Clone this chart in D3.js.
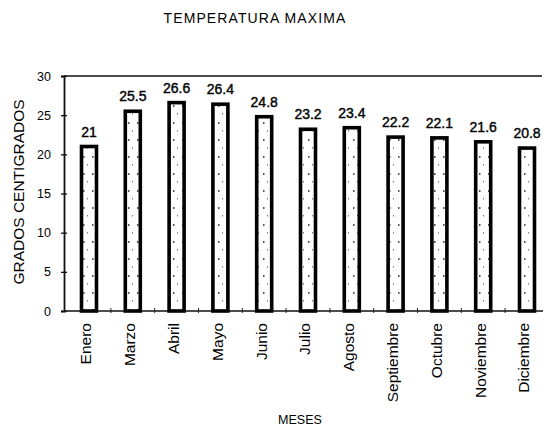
<!DOCTYPE html>
<html>
<head>
<meta charset="utf-8">
<script src="https://cdn.jsdelivr.net/npm/d3@7"></script>
<style>
  body { margin: 0; background: #fff; }
  svg { display: block; font-family: "Liberation Sans", Arial, Helvetica, sans-serif; }
</style>
</head>
<body>
<div id="chart"></div>
<script>
const months = ["Enero", "Marzo", "Abril", "Mayo", "Junio", "Julio", "Agosto",
                "Septiembre", "Octubre", "Noviembre", "Diciembre"]
const tempMax = [21, 25.5, 26.6, 26.4, 24.8, 23.2, 23.4, 22.2, 22.1, 21.6, 20.8]
const yTicks = [0, 5, 10, 15, 20, 25, 30]

const width = 544
const height = 428
const frame = {left: 64, right: 542, top: 76, bottom: 311}

const data = months.map((m, i) => ({month: m, value: tempMax[i]}))

const svg = d3.select("#chart").append("svg")
    .attr("width", width)
    .attr("height", height)

// speckled fill like the scanned bars
const pat = svg.append("defs").append("pattern")
    .attr("id", "speck")
    .attr("patternUnits", "userSpaceOnUse")
    .attr("width", 9).attr("height", 17)
pat.append("rect").attr("width", 9).attr("height", 17).attr("fill", "#fff")
pat.append("rect").attr("x", 2).attr("y", 3).attr("width", 1.5).attr("height", 2).attr("fill", "#555")
pat.append("rect").attr("x", 6).attr("y", 11).attr("width", 1).attr("height", 1.5).attr("fill", "#777")

const x = d3.scalePoint()
    .domain(months)
    .range([89, 527])

const y = d3.scaleLinear()
    .domain([0, 30])
    .range([frame.bottom, frame.top])

const barW = 15

// frame: top and bottom lines
svg.append("line")
    .attr("x1", frame.left).attr("x2", frame.right)
    .attr("y1", frame.top).attr("y2", frame.top)
    .attr("stroke", "#111").attr("stroke-width", 1.6)
svg.append("line")
    .attr("x1", frame.left).attr("x2", 543)
    .attr("y1", frame.bottom).attr("y2", frame.bottom)
    .attr("stroke", "#111").attr("stroke-width", 1.6)

// y axis
const yAxis = d3.axisLeft(y)
    .tickValues(yTicks)
    .tickSize(3)
    .tickPadding(10)
const gy = svg.append("g")
    .attr("class", "y-axis")
    .attr("transform", `translate(${frame.left},0)`)
    .call(yAxis)
gy.select(".domain").attr("stroke", "#111").attr("stroke-width", 1.8)
gy.selectAll(".tick line").attr("stroke", "#111").attr("x2", 3).attr("x1", -3).attr("stroke-width", 1.3)
gy.selectAll(".tick text")
    .attr("font-size", 12.5)
    .attr("fill", "#000")
    .attr("font-family", "Liberation Sans, Arial, sans-serif")

// small marks on the baseline between bars
const mids = months.slice(1).map((m, i) => (x(months[i]) + x(m)) / 2)
svg.append("g").selectAll("line")
    .data(mids)
    .join("line")
    .attr("x1", d => d).attr("x2", d => d)
    .attr("y1", frame.bottom - 3).attr("y2", frame.bottom + 2)
    .attr("stroke", "#222").attr("stroke-width", 1)

// bars
svg.append("g").selectAll("rect")
    .data(data)
    .join("rect")
    .attr("x", d => x(d.month) - barW / 2)
    .attr("y", d => y(d.value))
    .attr("width", barW)
    .attr("height", d => y(0) - y(d.value))
    .attr("fill", "url(#speck)")
    .attr("stroke", "#000")
    .attr("stroke-width", 3.6)

// value labels
svg.append("g").selectAll("text")
    .data(data)
    .join("text")
    .attr("x", d => x(d.month))
    .attr("y", d => y(d.value) - 10)
    .attr("text-anchor", "middle")
    .attr("font-size", 14)
    .attr("stroke", "#000")
    .attr("stroke-width", 0.4)
    .text(d => d.value)

// month labels
svg.append("g").selectAll("text")
    .data(data)
    .join("text")
    .attr("transform", d => `translate(${x(d.month) - 3},323) rotate(-90)`)
    .attr("text-anchor", "end")
    .attr("dy", "0.35em")
    .attr("font-size", 15.5)
    .text(d => d.month)

// titles
svg.append("text")
    .attr("x", 255).attr("y", 23)
    .attr("text-anchor", "middle")
    .attr("font-size", 14)
    .attr("letter-spacing", 1.1)
    .text("TEMPERATURA MAXIMA")

svg.append("text")
    .attr("transform", "translate(24,192) rotate(-90)")
    .attr("text-anchor", "middle")
    .attr("font-size", 15.5)
    .text("GRADOS CENTIGRADOS")

svg.append("text")
    .attr("x", 300).attr("y", 424)
    .attr("text-anchor", "middle")
    .attr("font-size", 12.5)
    .text("MESES")
</script>
</body>
</html>
